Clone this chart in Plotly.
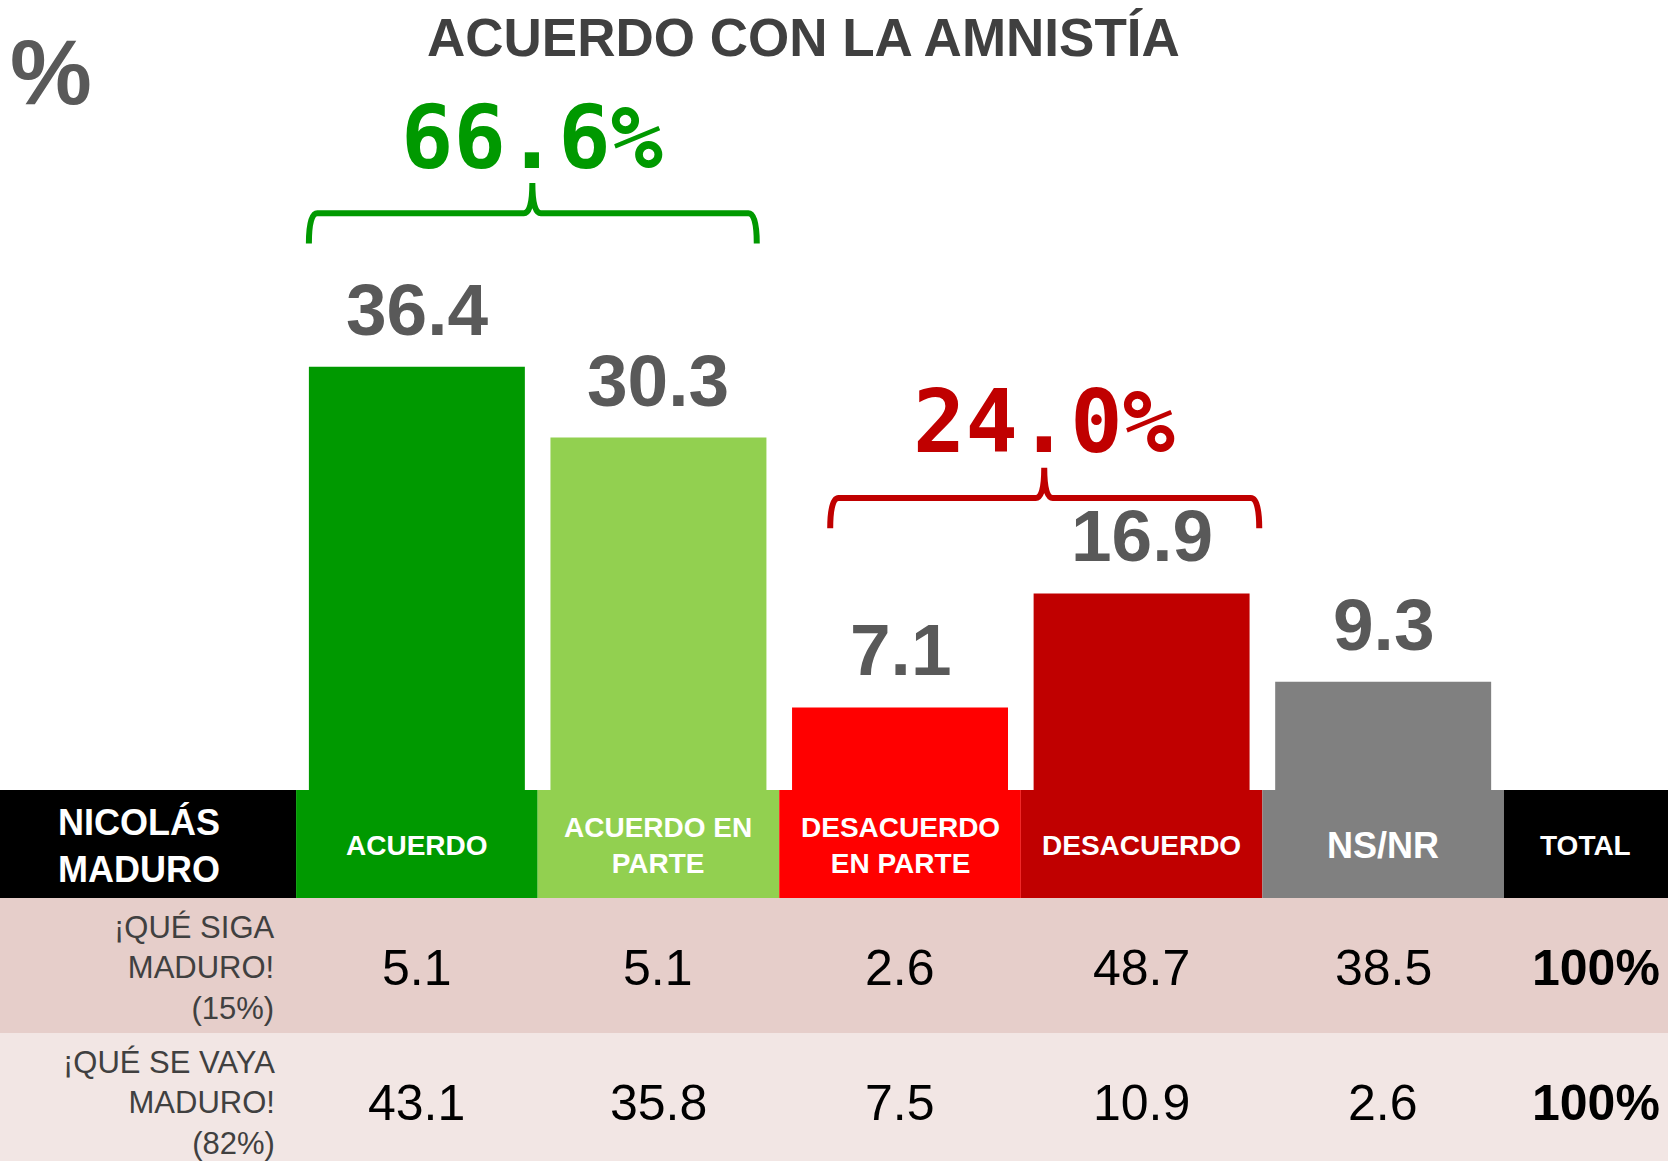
import plotly.graph_objects as go

# ---------------------------------------------------------------
# Data
# ---------------------------------------------------------------
categories = ["ACUERDO", "ACUERDO EN PARTE", "DESACUERDO EN PARTE", "DESACUERDO", "NS/NR"]
header_labels = ["ACUERDO", "ACUERDO EN<br>PARTE", "DESACUERDO<br>EN PARTE", "DESACUERDO", "NS/NR"]
bar_values = [36.4, 30.3, 7.1, 16.9, 9.3]

row_labels = ["¡QUÉ SIGA<br>MADURO!<br>(15%)", "¡QUÉ SE VAYA<br>MADURO!<br>(82%)"]
siga_values = [5.1, 5.1, 2.6, 48.7, 38.5]
vaya_values = [43.1, 35.8, 7.5, 10.9, 2.6]
row_totals = ["100%", "100%"]

group_labels = ["66.6%", "24.0%"]
group_members = [[0, 1], [2, 3]]

# ---------------------------------------------------------------
# Style
# ---------------------------------------------------------------
bar_colors = ["#009900", "#92D050", "#FF0000", "#C00000", "#808080"]
header_sizes = [28, 28, 28, 28, 36]
group_colors = ["#009900", "#C00000"]
row_fills = ["#E6CECA", "#F2E6E4"]
row_shifts = [-2, -6]               # fine vertical nudge of row text (px)
SANS = "Liberation Sans, Arial, sans-serif"
MONO = "DejaVu Sans Mono, monospace"

W, H = 1668, 1161
COL_PX = 241.5                      # width of one category column in px
LABEL_COL = 296 / COL_PX            # left label column width (x units)
TOTAL_COL = 164 / COL_PX            # right "TOTAL" column width (x units)
X0 = -0.5 - LABEL_COL
X1 = len(categories) - 0.5 + TOTAL_COL
TABLE_PX = 371
ROW_EDGES = [0, 108, 243, 371]      # header / row1 / row2 in table px
Y_TOP = (H - TABLE_PX) / 11.63      # bar axis: 11.63 px per percentage point

# brace geometry: (left offset, right offset, tip offset), y level
brace_offsets = [(-0.447, 0.407, -0.022), (-0.289, 0.487, 0.097)]
brace_levels = [49.6, 25.1]


def brace_path(left, right, tip, y, depth=2.6, r=0.035):
    yb, yt = y - depth, y + depth
    return (
        f"M {left},{yb} Q {left},{y} {left + r},{y} "
        f"L {tip - r},{y} Q {tip},{y} {tip},{yt} "
        f"Q {tip},{y} {tip + r},{y} "
        f"L {right - r},{y} Q {right},{y} {right},{yb}"
    )


fig = go.Figure()

# main bars
fig.add_trace(
    go.Bar(
        x=list(range(len(categories))),
        y=bar_values,
        width=0.894,
        marker=dict(color=bar_colors, line=dict(width=0)),
        hoverinfo="skip",
    )
)

annotations = []
shapes = []

# bar value labels
for i, v in enumerate(bar_values):
    annotations.append(
        dict(
            x=i, y=v, xref="x", yref="y", text=f"<b>{v:.1f}</b>",
            showarrow=False, yanchor="bottom", yshift=15,
            font=dict(family=SANS, size=73, color="#595959"),
        )
    )

# group braces + totals
for g, members in enumerate(group_members):
    lo, hi, tp = brace_offsets[g]
    left = min(members) + lo
    right = max(members) + hi
    tip = sum(members) / len(members) + tp
    shapes.append(
        dict(
            type="path", xref="x", yref="y",
            path=brace_path(left, right, tip, brace_levels[g]),
            line=dict(color=group_colors[g], width=6),
        )
    )
    annotations.append(
        dict(
            x=tip, y=brace_levels[g] + 6.5, xref="x", yref="y",
            text=f"<b>{group_labels[g]}</b>", showarrow=False,
            yanchor="middle",
            font=dict(family=MONO, size=87, color=group_colors[g]),
        )
    )

# ---------------------------------------------------------------
# Table below the bars
# ---------------------------------------------------------------
col_edges = [X0] + [i - 0.5 for i in range(len(categories))] + [len(categories) - 0.5, X1]
header_fills = ["#000000"] + bar_colors + ["#000000"]
for c in range(len(col_edges) - 1):
    shapes.append(
        dict(
            type="rect", xref="x", yref="y2", layer="below",
            x0=col_edges[c], x1=col_edges[c + 1],
            y0=ROW_EDGES[0], y1=ROW_EDGES[1],
            fillcolor=header_fills[c], line=dict(width=0),
        )
    )
for r in range(2):
    shapes.append(
        dict(
            type="rect", xref="x", yref="y2", layer="below",
            x0=X0, x1=X1, y0=ROW_EDGES[r + 1], y1=ROW_EDGES[r + 2],
            fillcolor=row_fills[r], line=dict(width=0),
        )
    )

head_mid = (ROW_EDGES[0] + ROW_EDGES[1]) / 2
annotations.append(
    dict(
        x=X0 + 56 / COL_PX, y=head_mid, xref="x", yref="y2",
        text="<b>NICOLÁS<br>MADURO</b>", showarrow=False,
        xanchor="left", align="left", yshift=-2,
        font=dict(family=SANS, size=36, color="white"),
    )
)
for i, lab in enumerate(header_labels):
    annotations.append(
        dict(
            x=i, y=head_mid, xref="x", yref="y2", text=f"<b>{lab}</b>",
            showarrow=False, align="center", xanchor="center", yshift=-1,
            font=dict(family=SANS, size=header_sizes[i], color="white"),
        )
    )
total_x = len(categories) - 0.5 + TOTAL_COL / 2
annotations.append(
    dict(
        x=total_x, y=head_mid, xref="x", yref="y2", text="<b>TOTAL</b>",
        showarrow=False, xanchor="center", yshift=-1,
        font=dict(family=SANS, size=28, color="white"),
    )
)

for r, vals in enumerate([siga_values, vaya_values]):
    mid = (ROW_EDGES[r + 1] + ROW_EDGES[r + 2]) / 2
    annotations.append(
        dict(
            x=-0.5 - 19.5 / COL_PX, y=mid, xref="x", yref="y2",
            text=row_labels[r], showarrow=False,
            xanchor="right", align="right", yshift=row_shifts[r],
            font=dict(family=SANS, size=31, color="#404040"),
        )
    )
    for i, v in enumerate(vals):
        annotations.append(
            dict(
                x=i, y=mid, xref="x", yref="y2", text=f"{v:.1f}",
                showarrow=False, xanchor="center", yshift=row_shifts[r],
                font=dict(family=SANS, size=50, color="black"),
            )
        )
    annotations.append(
        dict(
            x=total_x + 0.04, y=mid, xref="x", yref="y2",
            text=f"<b>{row_totals[r]}</b>", showarrow=False, xanchor="center",
            yshift=row_shifts[r],
            font=dict(family=SANS, size=50, color="black"),
        )
    )

# headline texts
annotations.append(
    dict(
        x=803 / W, y=1 - 37 / H, xref="paper", yref="paper",
        text="<b>ACUERDO CON LA AMNISTÍA</b>", showarrow=False,
        xanchor="center", yanchor="middle",
        font=dict(family=SANS, size=53, color="#404040"),
    )
)
annotations.append(
    dict(
        x=51 / W, y=1 - 72 / H, xref="paper", yref="paper",
        text="<b>%</b>", showarrow=False, xanchor="center", yanchor="middle",
        font=dict(family=SANS, size=92, color="#595959"),
    )
)

fig.update_layout(
    width=W,
    height=H,
    margin=dict(l=0, r=0, t=0, b=0),
    paper_bgcolor="white",
    plot_bgcolor="rgba(0,0,0,0)",
    showlegend=False,
    barmode="overlay",
    xaxis=dict(range=[X0, X1], visible=False, fixedrange=True),
    yaxis=dict(range=[0, Y_TOP], domain=[TABLE_PX / H, 1], visible=False, fixedrange=True),
    yaxis2=dict(range=[TABLE_PX, 0], domain=[0, TABLE_PX / H], anchor="x",
                visible=False, fixedrange=True),
    shapes=shapes,
    annotations=annotations,
)

fig.write_html(
    "out.html",
    config={"displayModeBar": False},
    post_script="document.body.style.margin='0';",
)
